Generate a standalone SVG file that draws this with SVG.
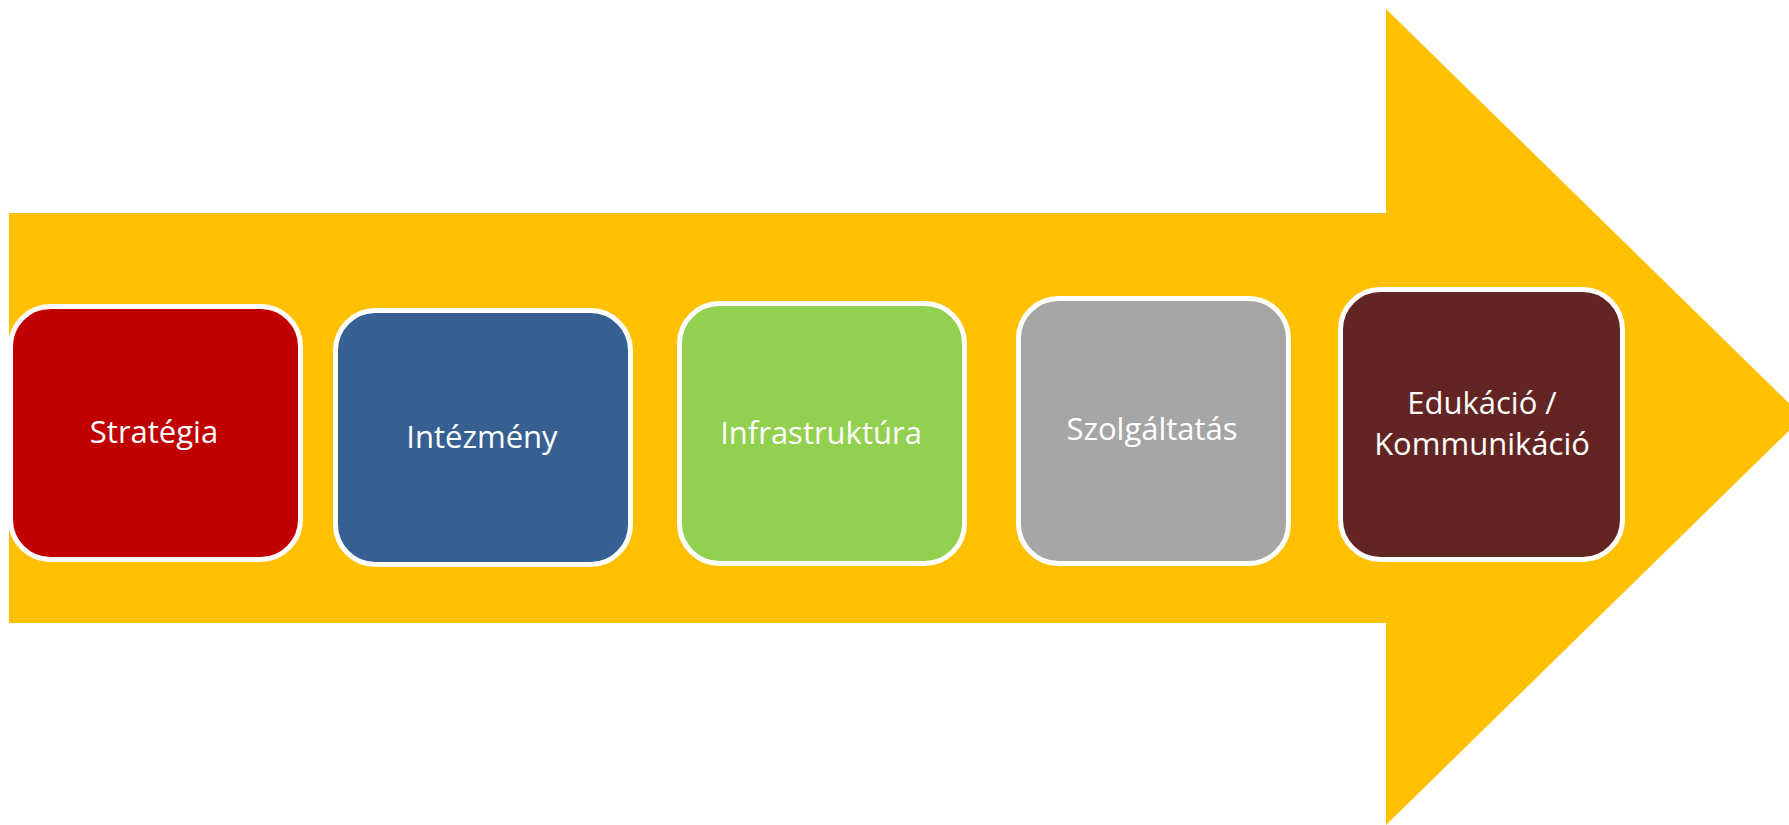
<svg xmlns="http://www.w3.org/2000/svg" width="1789" height="825" viewBox="0 0 1789 825">
<style>
.box{stroke:#FFFFFF;stroke-width:5}
.lbl{font-family:"Open Sans","Liberation Sans",sans-serif;font-size:31px;fill:#FFFFFF;text-anchor:middle}
</style>
<rect width="1789" height="825" fill="#FFFFFF"/>
<g id="arrow">
<polygon points="9,213 1386,213 1386,9 1803,417 1386,825 1386,623 9,623" fill="#FFC000"/>
</g>
<g id="connectors"></g>
<g id="node-strategia">
<rect class="box" x="10.5" y="306.5" width="290" height="253" rx="40" fill="#C00000"/>
<text class="lbl" x="154" y="443">Stratégia</text>
</g>
<g id="node-intezmeny">
<rect class="box" x="335.5" y="310.5" width="295" height="254" rx="40" fill="#376092"/>
<text class="lbl" x="482" y="448">Intézmény</text>
</g>
<g id="node-infrastruktura">
<rect class="box" x="679.5" y="303.5" width="285" height="260" rx="40" fill="#92D050"/>
<text class="lbl" x="821" y="444">Infrastruktúra</text>
</g>
<g id="node-szolgaltatas">
<rect class="box" x="1018.5" y="298.5" width="270" height="265" rx="40" fill="#A6A6A6"/>
<text class="lbl" x="1152" y="440">Szolgáltatás</text>
</g>
<g id="node-edukacio">
<rect class="box" x="1340.5" y="289.5" width="282" height="270" rx="40" fill="#632523"/>
<text class="lbl" x="1482" y="414">Edukáció /</text>
<text class="lbl" x="1482" y="455">Kommunikáció</text>
</g>
</svg>
